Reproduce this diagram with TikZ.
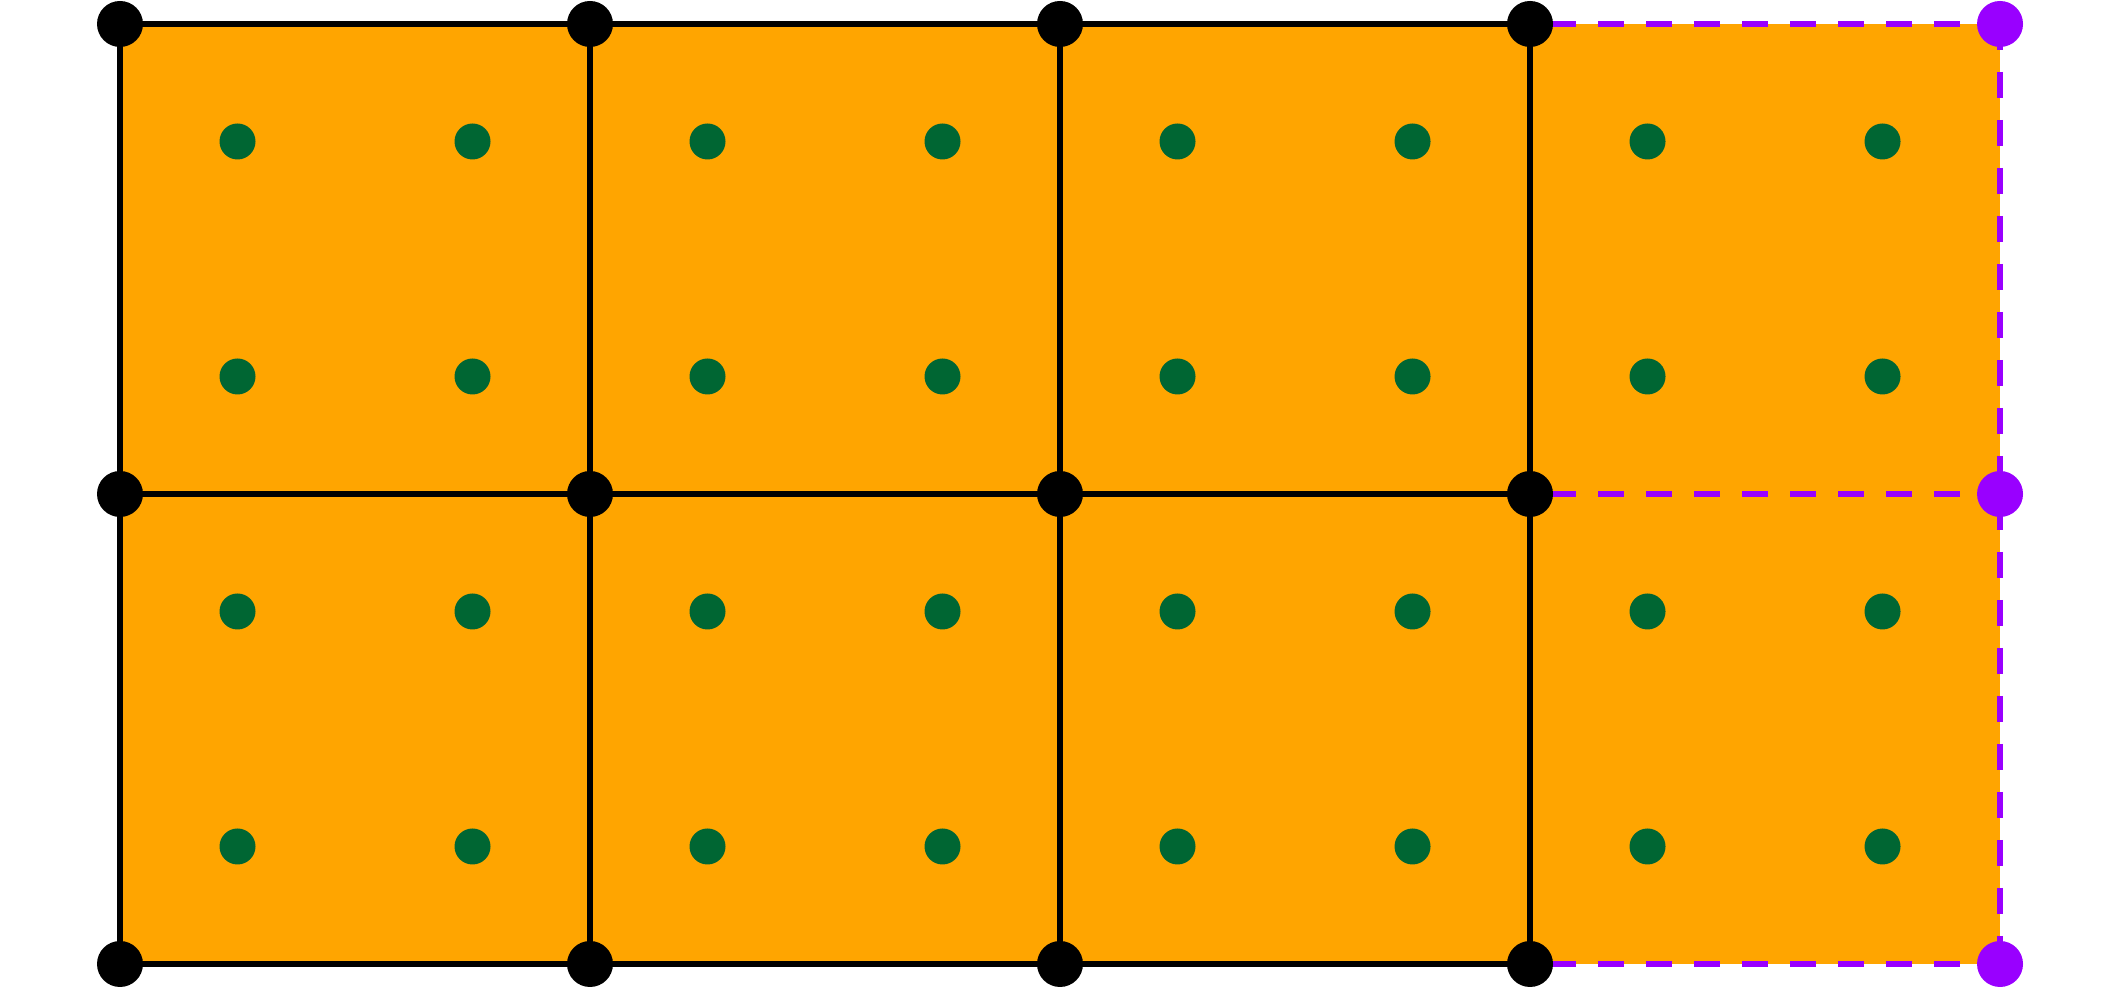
\documentclass[tikz,border=0pt]{standalone}
\usepackage{xcolor}
\usepackage{tikz}
\definecolor{cellorange}{RGB}{255,165,0}
\definecolor{ptgreen}{RGB}{0,102,51}
\definecolor{ghostviolet}{RGB}{153,0,255}

\begin{document}
\begin{tikzpicture}[
  x=47mm,y=47mm,
  vert/.style={circle,fill=black,inner sep=0pt,minimum size=4.6mm},
  ghost/.style={vert,fill=ghostviolet},
  quad/.style={circle,fill=ptgreen,inner sep=0pt,minimum size=3.6mm},
  edge/.style={line width=0.6mm,black},
  ghostedge/.style={line width=0.6mm,ghostviolet,
    dash pattern=on 2.6mm off 2.2mm},
]
\useasboundingbox (-12mm,-2.4mm) rectangle (200mm,96.4mm);
%% mesh corners
\foreach \i in {0,...,4}
  \foreach \j in {0,1,2}
    \coordinate (p-\i-\j) at (\i,\j);
%% cells
\fill[cellorange] (p-0-0) rectangle (p-4-2);
%% quadrature points
\foreach \i in {0,...,3}
  \foreach \j in {0,1}
    \foreach \a in {0.25,0.75}
      \foreach \b in {0.25,0.75}
        \node[quad] (q-\i-\j-\a-\b) at (\i+\a,\j+\b) {};
%% solid edges
\foreach \j in {0,1,2}
  \draw[edge] (p-0-\j) -- (p-3-\j);
\foreach \i in {0,...,3}
  \draw[edge] (p-\i-0) -- (p-\i-2);
%% ghost edges
\foreach \j in {0,1,2}
  \draw[ghostedge,dash phase=2.8mm] (p-3-\j) -- (p-4-\j);
\draw[ghostedge] (p-4-2) -- (p-4-0);
%% vertices
\foreach \i in {0,...,3}
  \foreach \j in {0,1,2}
    \node[vert] (v-\i-\j) at (p-\i-\j) {};
\foreach \j in {0,1,2}
  \node[ghost] (g-\j) at (p-4-\j) {};
\end{tikzpicture}
\end{document}
